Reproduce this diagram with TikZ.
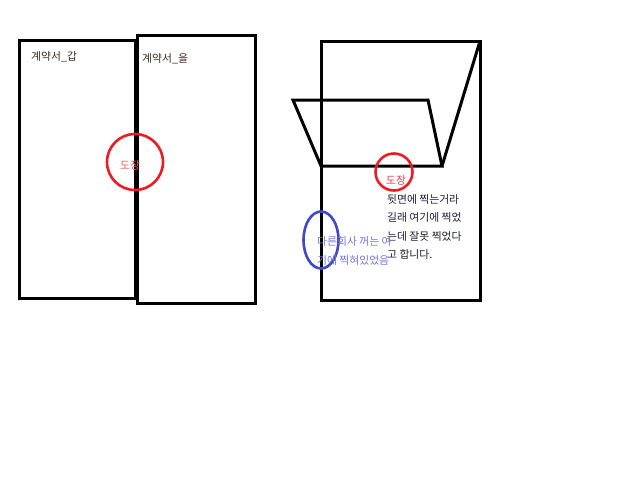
\documentclass[tikz,border=0pt]{standalone}
\usepackage{fontspec}
\setmainfont{Noto Sans CJK KR}
\usetikzlibrary{shapes.geometric}
\definecolor{paintred}{HTML}{ED1C24}
\definecolor{paintblue}{HTML}{3F48CC}
\definecolor{redtxt}{HTML}{F05A5F}
\definecolor{bluetxt}{HTML}{7077DC}
\definecolor{lbltxt}{HTML}{3A2E22}
\definecolor{notetxt}{HTML}{1E1E32}
\begin{document}
\begin{tikzpicture}[x=1pt,y=-1pt,
  paper/.style={draw=black,line width=3pt},
  stamp/.style={draw=paintred,line width=2.6pt},
  lbl/.style={inner sep=0pt,anchor=west,font=\fontsize{10.8}{18.5}\selectfont},
  blk/.style={line width=3pt,line join=miter}]
\useasboundingbox[fill=white] (0,0) rectangle (620,496);
% left contracts
\draw[paper] (19,40) rectangle (135,298);
\draw[paper] (137,35) rectangle (255,303);
\node[lbl,text=lbltxt] (gap) at (31,57) {계약서\_갑};
\node[lbl,text=lbltxt] (eul) at (142,59) {계약서\_을};
\node[stamp,circle,minimum size=56pt,inner sep=0pt] (c1) at (135,162) {};
\node[lbl,text=redtxt] (d1) at (120,165) {도장};
% right paper
\draw[paper] (321,41) rectangle (480,300);
\coordinate (f1) at (293,100);
\coordinate (f2) at (428,100);
\coordinate (f3) at (442,166);
\coordinate (f4) at (321,166);
\coordinate (f5) at (480,41);
\draw[blk] (f4) -- (f1) -- (f2) -- (f3) -- (f4);
\draw[blk] (f3) -- (f5);
\node[stamp,circle,minimum size=37pt,inner sep=0pt] (c2) at (394,172) {};
\node[lbl,text=paintred!85] (d2) at (386,180) {도장};
\node[lbl,text=notetxt,align=left,anchor=north west] (note) at (387,194)
  {뒷면에 찍는거라\\길래 여기에 찍었\\는데 잘못 찍었다\\고 합니다.};
\node[draw=paintblue,line width=2.6pt,ellipse,minimum width=35pt,minimum height=57pt,inner sep=0pt] (e1) at (321,240) {};
\node[lbl,text=bluetxt,align=left,anchor=north west,font=\fontsize{10.8}{19}\selectfont] (other) at (317,236)
  {다른회사 꺼는 여\\기에 찍혀있었음};
\end{tikzpicture}
\end{document}
